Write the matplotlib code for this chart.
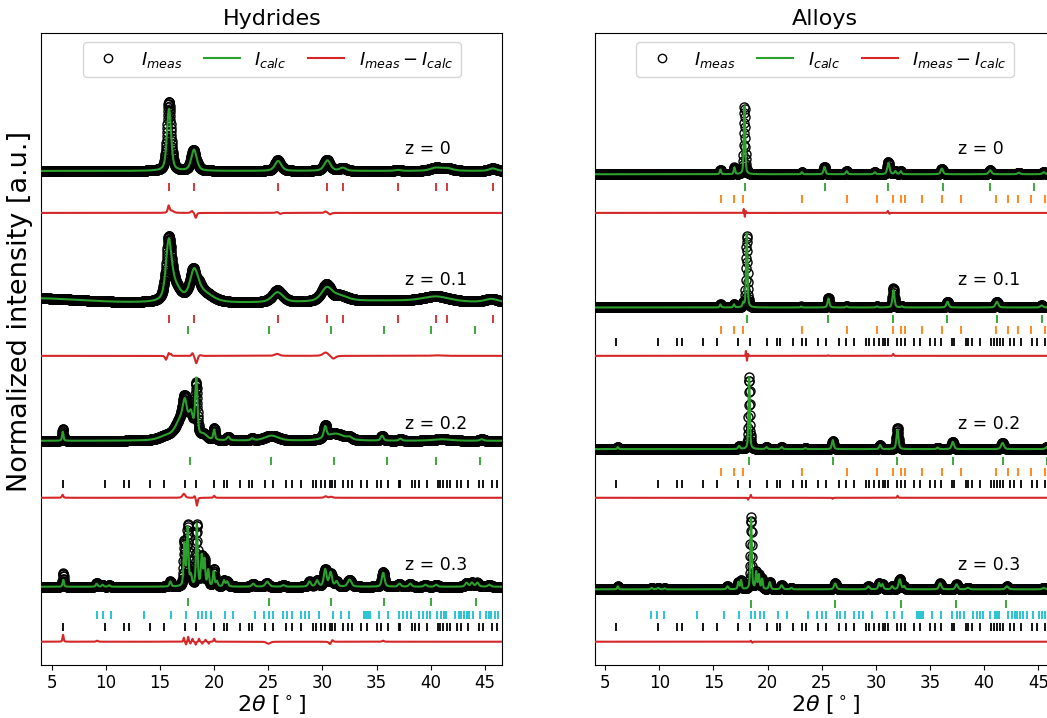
import matplotlib
matplotlib.use('Agg')
import matplotlib.pyplot as plt
import numpy as np

# peak lists: (2theta position, height, fwhm) -- heights in plot units
hyd_z0_peaks = [(15.83, 0.62, 0.45), (18.14, 0.21, 0.6), (25.90, 0.10, 0.7), (30.45, 0.105, 0.7),
                (31.87, 0.03, 0.7), (36.95, 0.01, 0.6), (40.46, 0.03, 1.2), (41.53, 0.025, 1.2),
                (45.72, 0.025, 0.8)]
hyd_z0_diff = [(15.8, 0.07, 0.2), (16.1, 0.02, 0.4), (17.95, 0.02, 0.25), (18.3, -0.05, 0.2),
               (25.8, 0.01, 0.3), (26.1, -0.01, 0.3), (30.3, 0.015, 0.3), (30.7, -0.015, 0.3)]

hyd_z01_peaks = [(3.5, 0.05, 10.0), (36.0, 0.025, 14.0), (15.80, 0.53, 0.6), (16.3, 0.16, 1.3),
                 (18.15, 0.28, 0.9), (19.0, 0.09, 2.0), (25.85, 0.10, 1.2), (30.4, 0.13, 1.2),
                 (31.6, 0.05, 1.8), (40.5, 0.05, 3.0), (45.6, 0.035, 1.5)]
hyd_z01_diff = [(15.55, -0.04, 0.2), (15.8, 0.03, 0.15), (16.0, 0.02, 0.15), (18.0, 0.03, 0.2),
                (18.35, -0.075, 0.25), (18.7, 0.01, 0.3), (25.8, 0.02, 0.5), (30.3, 0.035, 0.6),
                (31.0, -0.03, 0.5), (40.5, 0.005, 1.0)]

hyd_z02_peaks = [(6.02, 0.09, 0.15), (15.6, 0.04, 1.6), (16.95, 0.2, 1.2), (17.3, 0.24, 0.45),
                 (17.85, 0.22, 0.5), (18.35, 0.57, 0.25), (19.0, 0.05, 0.8), (20.0, 0.10, 0.2),
                 (21.3, 0.035, 0.3), (23.5, 0.02, 0.3), (25.3, 0.05, 1.5), (30.25, 0.11, 0.3),
                 (31.2, 0.07, 2.0), (32.5, 0.02, 0.5), (35.5, 0.05, 0.3), (37.2, 0.02, 0.3),
                 (41.0, 0.015, 2.0), (44.7, 0.015, 0.4)]
hyd_z02_diff = [(6.0, 0.03, 0.15), (17.2, 0.04, 0.3), (18.2, 0.02, 0.15), (18.4, -0.08, 0.15),
                (20.0, 0.02, 0.15), (30.3, 0.015, 0.3), (30.8, 0.01, 0.3)]

hyd_z03_peaks = [(6.07, 0.07, 0.15), (9.15, 0.03, 0.2), (9.7, 0.02, 0.2), (10.3, 0.015, 0.2),
                 (15.95, 0.05, 0.2), (17.25, 0.42, 0.18), (17.55, 0.58, 0.18), (17.85, 0.10, 0.2),
                 (18.4, 0.62, 0.18), (18.85, 0.30, 0.18), (19.1, 0.26, 0.18), (19.45, 0.16, 0.18),
                 (19.95, 0.15, 0.18), (20.25, 0.05, 0.2), (20.9, 0.06, 0.2), (21.2, 0.05, 0.25),
                 (23.6, 0.03, 0.3), (24.9, 0.05, 0.4), (26.4, 0.015, 0.3), (28.8, 0.05, 0.3),
                 (29.5, 0.06, 0.3), (30.25, 0.17, 0.3), (30.75, 0.14, 0.3), (31.3, 0.05, 0.3),
                 (32.5, 0.07, 0.4), (35.6, 0.14, 0.3), (37.1, 0.03, 0.3), (38.1, 0.03, 0.3),
                 (39.5, 0.02, 0.3), (40.5, 0.02, 0.3), (43.3, 0.04, 0.3), (43.8, 0.04, 0.3),
                 (44.3, 0.04, 0.3), (45.4, 0.02, 0.3)]
hyd_z03_diff = [(6.05, 0.07, 0.12), (9.2, 0.01, 0.2), (17.2, 0.04, 0.1), (17.4, -0.03, 0.1),
                (17.6, 0.05, 0.1), (17.8, -0.02, 0.1), (18.0, 0.03, 0.1), (18.3, -0.03, 0.1),
                (18.6, 0.03, 0.1), (18.9, -0.02, 0.1), (19.2, 0.02, 0.1), (19.5, -0.02, 0.1),
                (20.0, 0.03, 0.12), (25.0, -0.02, 0.4), (30.7, -0.025, 0.25), (30.9, 0.02, 0.2),
                (35.6, 0.01, 0.2)]

all_z0_peaks = [(15.65, 0.047, 0.15), (16.94, 0.067, 0.15), (17.87, 0.69, 0.15), (23.16, 0.02, 0.15),
                (25.25, 0.073, 0.2), (27.31, 0.03, 0.2), (29.9, 0.02, 0.2), (31.16, 0.113, 0.25),
                (31.8, 0.03, 0.2), (32.3, 0.03, 0.2), (36.09, 0.057, 0.25), (40.55, 0.04, 0.3),
                (43.2, 0.015, 0.3), (45.5, 0.02, 0.3)]
all_z0_diff = [(17.8, 0.04, 0.05), (17.9, -0.04, 0.05), (18.0, 0.02, 0.06), (31.1, 0.02, 0.1),
               (31.25, -0.01, 0.1)]

all_z01_peaks = [(15.65, 0.03, 0.15), (16.9, 0.03, 0.15), (17.75, 0.04, 0.15), (18.08, 0.74, 0.15),
                 (23.1, 0.01, 0.15), (25.62, 0.09, 0.2), (27.3, 0.01, 0.2), (30.1, 0.01, 0.2),
                 (31.62, 0.173, 0.22), (32.4, 0.01, 0.2), (36.61, 0.057, 0.25), (41.17, 0.057, 0.3),
                 (45.3, 0.02, 0.3)]
all_z01_diff = [(18.0, 0.05, 0.05), (18.1, -0.05, 0.05), (18.2, 0.02, 0.06), (25.6, 0.005, 0.1),
                (31.6, 0.02, 0.1)]

all_z02_peaks = [(6.17, 0.02, 0.15), (17.37, 0.03, 0.2), (18.30, 0.72, 0.15), (19.9, 0.02, 0.2),
                 (21.3, 0.02, 0.2), (23.5, 0.01, 0.2), (26.02, 0.09, 0.2), (30.39, 0.04, 0.2),
                 (31.99, 0.19, 0.22), (35.7, 0.015, 0.2), (37.10, 0.073, 0.25), (41.69, 0.063, 0.3),
                 (45.8, 0.02, 0.3)]
all_z02_diff = [(18.2, -0.02, 0.08), (18.45, 0.03, 0.08), (26.0, -0.01, 0.1), (32.0, 0.02, 0.1)]

all_z03_peaks = [(6.17, 0.03, 0.15), (9.3, 0.015, 0.2), (9.9, 0.015, 0.2), (10.5, 0.01, 0.2),
                 (16.3, 0.03, 0.2), (17.3, 0.07, 0.15), (17.55, 0.09, 0.15), (18.48, 0.71, 0.15),
                 (18.95, 0.17, 0.15), (19.2, 0.14, 0.15), (19.5, 0.10, 0.15), (20.2, 0.07, 0.2),
                 (21.3, 0.04, 0.25), (22.2, 0.015, 0.2), (26.24, 0.06, 0.25), (29.3, 0.03, 0.25),
                 (30.3, 0.06, 0.2), (30.6, 0.05, 0.2), (31.5, 0.03, 0.2), (32.2, 0.10, 0.25),
                 (32.6, 0.03, 0.2), (35.93, 0.06, 0.25), (37.45, 0.05, 0.25), (38.5, 0.015, 0.3),
                 (42.1, 0.03, 0.3), (45.5, 0.015, 0.3)]
all_z03_diff = [(18.45, 0.01, 0.1), (18.6, -0.01, 0.1)]

# Bragg reflection positions for each phase
hyd_red_ticks = [15.83, 18.14, 25.90, 30.45, 31.87, 36.95, 40.46, 41.53, 45.72]
hyd_z01_green = [17.61, 25.03, 30.76, 35.68, 39.99, 44.05]
hyd_z02_green = [17.77, 25.22, 31.03, 35.99, 40.46, 44.55]
hyd_z03_green = [17.61, 25.03, 30.76, 35.68, 40.05, 44.15]
all_z0_green = [17.87, 25.31, 31.16, 36.15, 40.55, 44.58]
all_z01_green = [18.08, 25.62, 31.62, 36.61, 41.17, 45.32]
all_z02_green = [18.30, 26.02, 31.99, 37.10, 41.69, 45.78]
all_z03_green = [18.48, 26.24, 32.30, 37.41, 42.03]
orange_ticks = [15.68, 16.94, 17.77, 23.16, 27.31, 30.08, 31.62, 32.30, 32.73, 34.24, 36.09,
                37.87, 41.07, 42.18, 43.10, 44.31, 45.63]
black_ticks = [6.01, 9.89, 11.65, 12.14, 14.05, 15.34, 17.28, 18.35, 19.96, 20.88, 21.16, 22.39,
               23.22, 23.53, 24.70, 25.40, 26.60, 27.22, 28.02, 29.13, 29.40, 29.84, 30.27, 30.67,
               30.88, 31.13, 31.93, 32.33, 32.73, 33.53, 34.08, 35.01, 35.44, 36.02, 37.04, 37.19,
               38.30, 38.52, 38.88, 39.62, 40.64, 40.88, 41.16, 41.50, 41.78, 42.42, 42.79, 43.44,
               44.42, 44.86, 45.62, 46.15]
cyan_ticks = [9.21, 9.77, 10.45, 13.49, 15.99, 17.40, 18.51, 18.88, 19.28, 19.68, 21.00, 21.77,
              23.74, 24.60, 25.07, 25.43, 26.39, 26.70, 27.19, 27.99, 28.42, 28.79, 29.65, 31.00,
              31.68, 32.42, 33.84, 34.02, 34.21, 34.39, 35.19, 36.02, 37.04, 37.47, 37.78, 38.15,
              38.92, 39.32, 39.62, 39.93, 40.55, 40.98, 41.22, 41.41, 42.21, 42.58, 42.83, 43.07,
              43.35, 43.56, 43.93, 44.55, 45.10, 45.35, 45.59, 45.90, 46.24]

z_labels = ['z = 0', 'z = 0.1', 'z = 0.2', 'z = 0.3']
base_hyd = [4.94, 3.615, 2.24, 0.78]
base_all = [4.907, 3.574, 2.157, 0.754]
diff_base = [4.52, 3.09, 1.67, 0.23]
label_y = [5.16, 3.85, 2.41, 0.997]

two_theta = np.arange(3.9, 46.7, 0.02)


def profile(x, peaks):
    # sum of pseudo-Voigt peaks (eta = 0.5)
    y = np.zeros_like(x)
    for c, h, w in peaks:
        d = (x - c) / (w / 2)
        y += h * (0.5 / (1 + d**2) + 0.5 * np.exp(-np.log(2) * d**2))
    return y


def draw_pattern(ax, peaks, diff, base, dbase):
    calc = base + profile(two_theta, peaks)
    meas = calc + profile(two_theta, diff)
    ax.plot(two_theta, meas, 'o', mfc='none', mec='black', ms=6.5, mew=1.0, zorder=2)
    ax.plot(two_theta, calc, color='tab:green', lw=1.5, zorder=3)
    ax.plot(two_theta, dbase + meas - calc, color='tab:red', lw=1.5, zorder=3)


def draw_ticks(ax, pos, y, color):
    ax.plot(pos, np.full(len(pos), y), '|', color=color, ms=6, mew=1.3)


fig = plt.figure(figsize=(10.47, 7.18), dpi=100)
ax1 = fig.add_axes([41.3 / 1047, 53.3 / 718, 461 / 1047, 631.4 / 718])
ax2 = fig.add_axes([594.7 / 1047, 53.3 / 718, 461 / 1047, 631.4 / 718])

# Hydrides
hyd_sets = [(hyd_z0_peaks, hyd_z0_diff), (hyd_z01_peaks, hyd_z01_diff),
            (hyd_z02_peaks, hyd_z02_diff), (hyd_z03_peaks, hyd_z03_diff)]
for i, (pk, df) in enumerate(hyd_sets):
    draw_pattern(ax1, pk, df, base_hyd[i], diff_base[i])
draw_ticks(ax1, hyd_red_ticks, 4.78, 'tab:red')
draw_ticks(ax1, hyd_red_ticks, 3.457, 'tab:red')
draw_ticks(ax1, hyd_z01_green, 3.347, 'tab:green')
draw_ticks(ax1, hyd_z02_green, 2.04, 'tab:green')
draw_ticks(ax1, black_ticks, 1.807, 'black')
draw_ticks(ax1, hyd_z03_green, 0.63, 'tab:green')
draw_ticks(ax1, cyan_ticks, 0.497, 'tab:cyan')
draw_ticks(ax1, black_ticks, 0.38, 'black')

# Alloys
all_sets = [(all_z0_peaks, all_z0_diff), (all_z01_peaks, all_z01_diff),
            (all_z02_peaks, all_z02_diff), (all_z03_peaks, all_z03_diff)]
for i, (pk, df) in enumerate(all_sets):
    draw_pattern(ax2, pk, df, base_all[i], diff_base[i])
draw_ticks(ax2, all_z0_green, 4.78, 'tab:green')
draw_ticks(ax2, orange_ticks, 4.664, 'tab:orange')
draw_ticks(ax2, all_z01_green, 3.457, 'tab:green')
draw_ticks(ax2, orange_ticks, 3.347, 'tab:orange')
draw_ticks(ax2, black_ticks, 3.23, 'black')
draw_ticks(ax2, all_z02_green, 2.04, 'tab:green')
draw_ticks(ax2, orange_ticks, 1.93, 'tab:orange')
draw_ticks(ax2, black_ticks, 1.804, 'black')
draw_ticks(ax2, all_z03_green, 0.607, 'tab:green')
draw_ticks(ax2, cyan_ticks, 0.497, 'tab:cyan')
draw_ticks(ax2, black_ticks, 0.38, 'black')

for ax, title in [(ax1, 'Hydrides'), (ax2, 'Alloys')]:
    for lab, yl in zip(z_labels, label_y):
        ax.text(37.62, yl, lab, fontsize=12.5, ha='left', va='center')
    ax.set_xlim(4.04, 46.6)
    ax.set_ylim(0, 6.317)
    ax.set_yticks([])
    ax.set_xticks(np.arange(5, 50, 5))
    ax.tick_params(axis='x', labelsize=12, pad=3)
    ax.set_xlabel(r'$2\theta$ [$^\circ$]', fontsize=16, labelpad=1)
    ax.set_title(title, fontsize=16)
    h_meas, = ax.plot([], [], 'o', mfc='none', mec='black', ms=6)
    h_calc, = ax.plot([], [], color='tab:green', lw=1.5)
    h_diff, = ax.plot([], [], color='tab:red', lw=1.5)
    ax.legend([h_meas, h_calc, h_diff], [r'$I_{meas}$', r'$I_{calc}$', r'$I_{meas}-I_{calc}$'],
              loc='upper center', ncol=3, fontsize=13, columnspacing=1.2)

ax1.set_ylabel('Normalized intensity [a.u.]', fontsize=19.5)
ax1.yaxis.set_label_coords(-0.018, 0.56)

fig.savefig('out.png', dpi=100)
